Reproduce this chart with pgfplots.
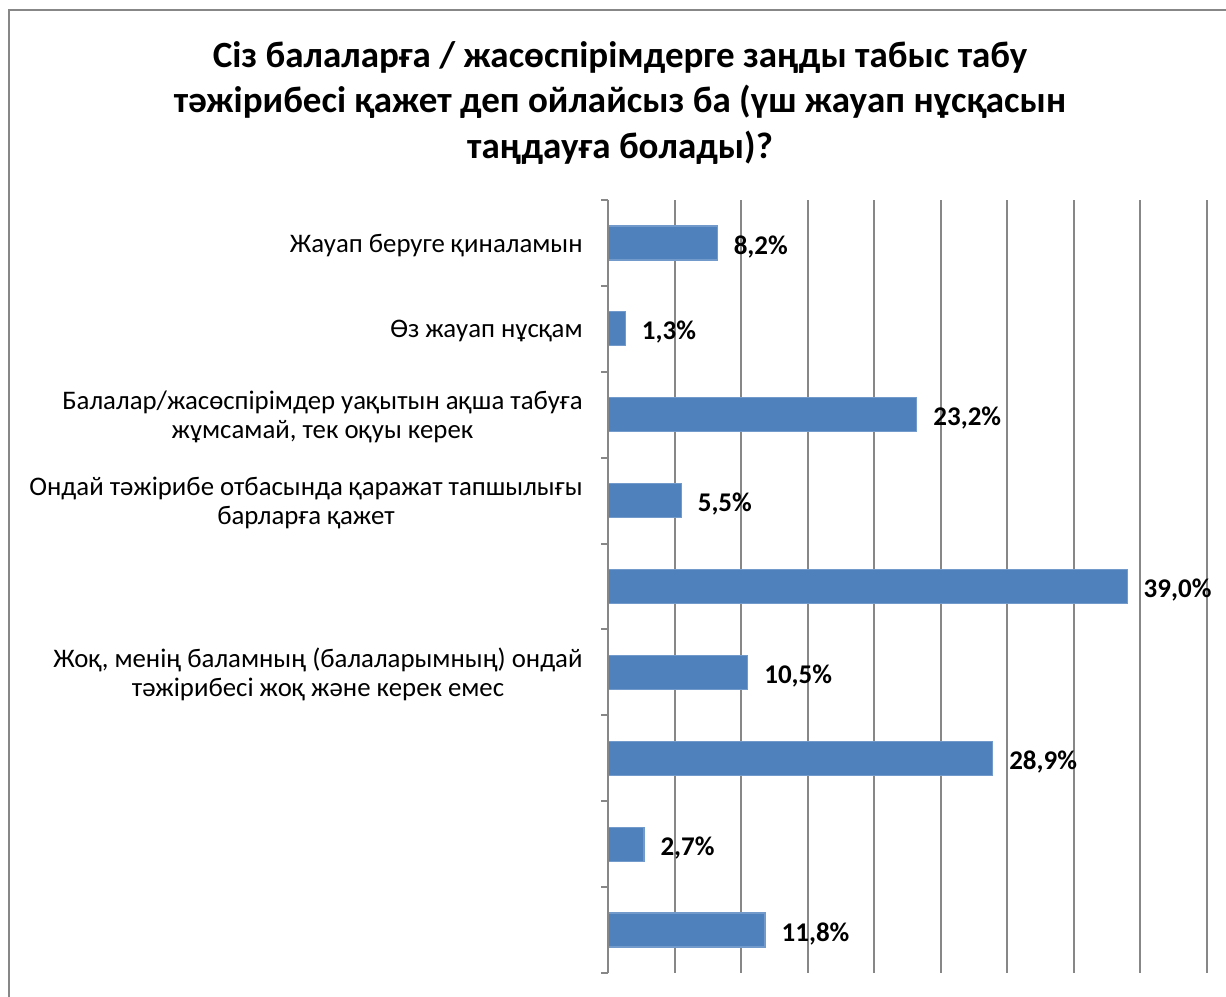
\documentclass[border=0pt]{standalone}
\usepackage{pgfplots}
\pgfplotsset{compat=1.18}
\usepackage{fontspec}
\setmainfont{Carlito}
\definecolor{barblue}{HTML}{4F81BD}
\definecolor{gridgray}{HTML}{878787}
\pgfplotstableread{
y val
0 8.2
1 1.3
2 23.2
3 5.5
4 39.0
5 10.5
6 28.9
7 2.7
8 11.8
}\datatable
\begin{document}
\begin{tikzpicture}
\useasboundingbox (0pt,0pt) rectangle (613pt,498pt);
\draw[gridgray, line width=1pt] (4.5pt,-1pt) -- (4.5pt,493pt) -- (614pt,493pt);
\node[font=\fontsize{18.5}{22.75}\selectfont\bfseries, align=center] at (310pt,446.5pt)
  {Сіз балаларға / жасөспірімдерге заңды табыс табу\\тәжірибесі қажет деп ойлайсыз ба (үш жауап нұсқасын\\таңдауға болады)?};
\begin{axis}[
  at={(304pt,11.5pt)}, anchor=south west,
  width=299.5pt, height=386.5pt, scale only axis,
  xbar, bar width=17pt,
  xmin=0, xmax=45, xtick={0,5,...,45}, xticklabels={},
  ymin=-0.5, ymax=8.5, y dir=reverse,
  ytick={0,...,8},
  minor ytick={-0.5,0.5,...,8.5},
  yticklabels={{Жауап беруге қиналамын},{Өз жауап нұсқам},{Балалар/жасөспірімдер уақытын ақша табуға\\жұмсамай, тек оқуы керек},{Ондай тәжірибе отбасында қаражат тапшылығы\\барларға қажет},{},{Жоқ, менің баламның (балаларымның) ондай\\тәжірибесі жоқ және керек емес},{},{},{}},
  yticklabel style={align=center, inner sep=0pt, font=\fontsize{13.4}{14.5}\selectfont, xshift=-12.5pt, yshift=-1.2pt},
  axis line style={draw=none},
  major tick length=0pt, minor tick length=3.5pt, tick align=outside,
  ytick pos=left, xtick pos=bottom,
  minor tick style={gridgray, line width=1pt},
  xmajorgrids, major grid style={gridgray, line width=1pt},
  nodes near coords={\pgfmathprintnumber[fixed,fixed zerofill,precision=1,use comma,assume math mode=true]{\pgfplotspointmeta}\%},
  point meta=x,
  every node near coord/.append style={font=\bfseries\fontsize{13.5}{15}\selectfont, black, inner sep=0pt, xshift=8pt, yshift=-1.8pt},
  clip=false,
]
\addplot[fill=barblue, draw=barblue!80!white, line width=0.6pt] table[x=val, y=y] {\datatable};
\draw[gridgray, line width=1pt] (axis cs:0,-0.5) -- (axis cs:0,8.5);
\end{axis}
\end{tikzpicture}
\end{document}
